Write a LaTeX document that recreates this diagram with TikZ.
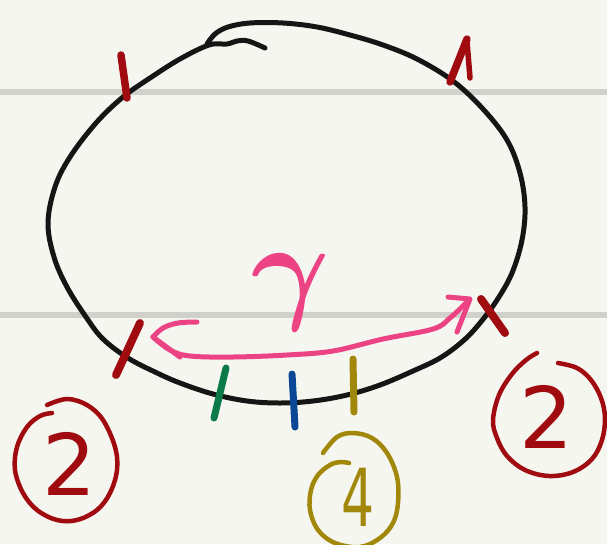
\documentclass[tikz,border=0pt]{standalone}
\usepackage{bm}
\usepackage{fontspec}
\setmainfont{DejaVu Sans}
\usepackage{graphicx}
\definecolor{paper}{HTML}{F6F6F1}
\definecolor{rule}{HTML}{D1D1CB}
\definecolor{ink}{HTML}{151515}
\definecolor{inkred}{HTML}{A00B10}
\definecolor{inkpink}{HTML}{EC4385}
\definecolor{inkgreen}{HTML}{0A7A48}
\definecolor{inkblue}{HTML}{0A4795}
\definecolor{inkgold}{HTML}{A2880A}
\tikzset{
  pen/.style={line cap=round, line join=round},
  ruleline/.style={draw=rule, line width=6pt},
  loopline/.style={pen, draw=ink, line width=5pt},
  redtick/.style={pen, draw=inkred, line width=7.5pt},
  colortick/.style={pen, line width=7pt},
  pinkline/.style={pen, draw=inkpink, line width=5pt},
  ringline/.style={pen, line width=4.5pt},
  handtext/.style={inner sep=0pt, outer sep=0pt}
}
\begin{document}
\begin{tikzpicture}[x=1pt,y=-1pt]
\useasboundingbox (0,0) rectangle (607,544);
\fill[paper] (0,0) rectangle (607,544);
\begin{scope}
\clip (0,0) rectangle (607,544);
% ruled lines
\draw[ruleline] (0,92) -- (607,92);
\draw[ruleline] (0,315) -- (607,315);
% the closed curve with the little curl at the top
\draw[loopline] plot[smooth, tension=0.6] coordinates {
 (207,44) (215,34) (228,27) (250,23) (283,23) (317,27) (350,35) (383,45)
 (417,59) (453,81) (483,109) (507,140) (520,173) (525,207) (522,240)
 (512,273) (497,300) (480,323) (463,341) (440,358) (413,371) (380,385)
 (347,395) (313,401) (280,403) (247,401) (213,394) (180,383) (155,372)
 (128,358) (103,339) (86,317) (67,287) (54,257) (48,223) (55,187)
 (70,157) (96,123) (123,97) (150,78) (180,59) (209,45) (227,44)
 (237,41) (248,41) (265,48)};
% red ticks
\draw[redtick] (121,55) -- (127,98);
\draw[redtick] (450,82) -- (467,39);
\draw[redtick, line width=5.5pt] (467,41) -- (470,78);
\draw[redtick, line width=8pt] (140,323) -- (116,375);
\draw[redtick, line width=8pt] (481,299) -- (505,333);
% coloured ticks
\draw[colortick, draw=inkgreen] (226,368) -- (214,418);
\draw[colortick, draw=inkblue] (292,374) -- (295,427);
\draw[colortick, draw=inkgold] (353,359) -- (354,412);
% pink double arrow
\draw[pinkline] plot[smooth, tension=0.6] coordinates {
 (197,322) (178,323) (163,328) (153,337)};
\draw[pinkline] (153,337) -- (180,357);
\draw[pinkline] plot[smooth, tension=0.6] coordinates {
 (153,337) (170,350) (190,356) (233,357) (287,355) (333,351) (383,339)
 (433,329) (450,318) (469,300)};
\draw[pinkline] (448,297) -- (470,299) -- (457,332);
% rings
\draw[ringline, draw=inkred] plot[smooth, tension=0.6] coordinates {
 (47,405) (67,399) (87,405) (103,420) (115,447) (117,470) (110,493)
 (97,510) (77,520) (57,520) (37,510) (23,493) (15,470) (17,447)
 (27,427) (40,416) (52,413)};
\draw[ringline, draw=inkred] plot[smooth, tension=0.6] coordinates {
 (558,363) (577,368) (591,380) (601,398) (605,418) (602,440) (592,459)
 (573,472) (549,476) (525,470) (507,456) (497,438) (493,420) (499,395)
 (512,374) (526,360) (537,353)};
\draw[ringline, draw=inkgold] plot[smooth, tension=0.6] coordinates {
 (323,453) (337,437) (353,433) (372,438) (387,453) (397,477) (398,503)
 (393,523) (380,538) (360,547) (335,543) (318,530) (310,510) (311,490)
 (318,475) (330,465) (340,462) (349,463)};
\end{scope}
% texts
\node[handtext, text=inkpink] (gam) at (291,292) {\scalebox{12}{$\bm{\gamma}$}};
\node[handtext, text=inkred, font=\fontsize{85}{85}\selectfont] (twoL) at (70,464) {2};
\node[handtext, text=inkred, font=\fontsize{85}{85}\selectfont] (twoR) at (547,417) {2};
\node[handtext, text=inkgold, font=\fontsize{80}{80}\selectfont] (four) at (358,497) {\scalebox{0.65}[1]{4}};
\end{tikzpicture}
\end{document}
